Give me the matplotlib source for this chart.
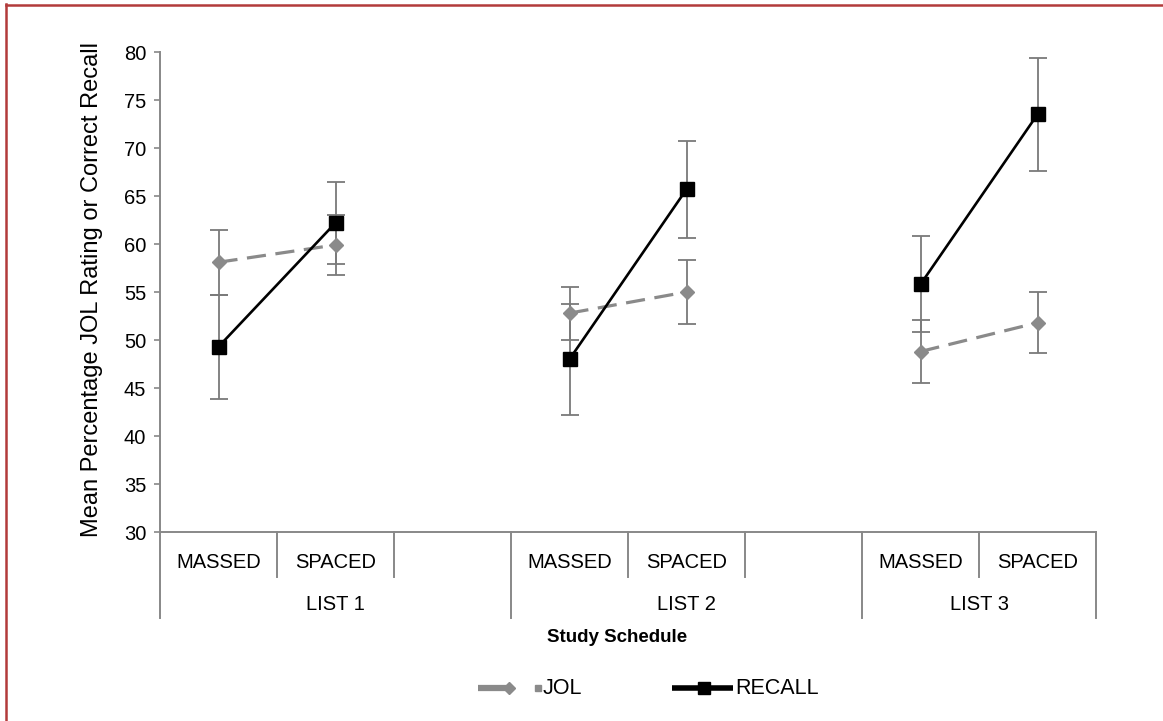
import matplotlib
matplotlib.use("Agg")
import matplotlib.pyplot as plt
from matplotlib.lines import Line2D
import matplotlib.transforms as mtransforms

plt.rcParams['font.family'] = ['Liberation Sans', 'DejaVu Sans']

# ---- data ----
categories = ["MASSED", "SPACED", "", "MASSED", "SPACED", "", "MASSED", "SPACED"]
groups = ["LIST 1", "LIST 2", "LIST 3"]
group_spans = [(0, 2), (3, 5), (6, 7)]
data_pos = [0, 1, 3, 4, 6, 7]
jol = [58.1, 59.9, 52.8, 55.0, 48.8, 51.8]
jol_err = [3.4, 3.1, 2.75, 3.3, 3.3, 3.2]
recall = [49.3, 62.2, 48.0, 65.7, 55.8, 73.5]
recall_err = [5.4, 4.3, 5.8, 5.05, 5.0, 5.9]
yticks = [30, 35, 40, 45, 50, 55, 60, 65, 70, 75, 80]

W, H = 1163, 721
fig = plt.figure(figsize=(W / 100, H / 100), dpi=100)
ax = fig.add_axes([160 / W, 1 - 532 / H, (1096 - 160) / W, 480 / H])

grey = '#8a8a8a'
ebar = '#7a7a7a'

# JOL
ax.errorbar(data_pos, jol, yerr=jol_err, fmt='none', ecolor=ebar, elinewidth=1.3,
            capsize=6.5, capthick=1.3, zorder=2)
# RECALL
ax.errorbar(data_pos, recall, yerr=recall_err, fmt='none', ecolor=ebar, elinewidth=1.3,
            capsize=6.5, capthick=1.3, zorder=2)
for k in range(0, len(data_pos), 2):
    xs = data_pos[k:k + 2]
    ax.plot(xs, jol[k:k + 2], color=grey, lw=2.3, dashes=(6.0, 3.0), marker='D', ms=7,
            mfc=grey, mec=grey, zorder=3)
    ax.plot(xs, recall[k:k + 2], color='black', lw=1.9, marker='s', ms=10,
            mfc='black', mec='black', zorder=4)

ax.set_xlim(-0.5, len(categories) - 0.5)
ax.set_ylim(30, 80)
ax.set_yticks(yticks)
ax.tick_params(axis='y', direction='out', length=4, width=1.2, color='#888888',
               labelsize=14.5, pad=6)
ax.set_xticks([])
for s in ['top', 'right']:
    ax.spines[s].set_visible(False)
ax.spines['left'].set_color('#888888')
ax.spines['left'].set_linewidth(1.4)
ax.spines['bottom'].set_color('#888888')
ax.spines['bottom'].set_linewidth(1.4)
ax.set_ylabel('Mean Percentage JOL Rating or Correct Recall', fontsize=17)
ax.yaxis.set_label_coords(-0.061, 0.505)

# category axis structure
trans = mtransforms.blended_transform_factory(ax.transData, ax.transAxes)
ph = 480.0
short_y = -45 / ph
long_y = -86 / ph
n = len(categories)
group_edges = set()
for a, b in group_spans:
    group_edges.add(a - 0.5)
for i in range(n + 1):
    xb = i - 0.5
    yb = long_y if (xb in group_edges or i == n) else short_y
    ax.add_line(Line2D([xb, xb], [0, yb], transform=trans, color='#888888',
                       lw=1.4, clip_on=False))
for i, c in enumerate(categories):
    if c:
        ax.text(i, -30 / ph, c, transform=trans, ha='center', va='center', fontsize=14.5)
for g, (a, b) in zip(groups, group_spans):
    ax.text((a + b) / 2, -72 / ph, g, transform=trans, ha='center', va='center',
            fontsize=14.5)

fig.text(617 / W, 1 - 637 / H, 'Study Schedule', ha='center', va='center',
         fontsize=13.5, fontweight='bold')

# legend
ly = 1 - 688 / H
fig.add_artist(Line2D([478 / W, 506 / W], [ly, ly], color=grey, lw=4.5,
                      solid_capstyle='butt'))
fig.add_artist(Line2D([509 / W], [ly], color=grey, marker='D', ms=6, mec=grey, mfc=grey,
                      lw=0))
fig.add_artist(Line2D([538 / W], [ly], color=grey, marker='s', ms=4, mec=grey, mfc=grey,
                      lw=0))
fig.text(543 / W, ly, 'JOL', ha='left', va='center', fontsize=15.5)
fig.add_artist(Line2D([672 / W, 733 / W], [ly, ly], color='black', lw=4,
                      solid_capstyle='butt'))
fig.add_artist(Line2D([704 / W], [ly], color='black', marker='s', ms=9, lw=0))
fig.text(735 / W, ly, 'RECALL', ha='left', va='center', fontsize=15.5)

# red frame
red = '#b23b3b'
fig.add_artist(Line2D([5.5 / W, 5.5 / W], [1 - 4 / H, 0], color=red, lw=1.8))
fig.add_artist(Line2D([5.5 / W, 1], [1 - 4.5 / H, 1 - 4.5 / H], color=red, lw=1.8))

fig.savefig('out.png', dpi=100)
